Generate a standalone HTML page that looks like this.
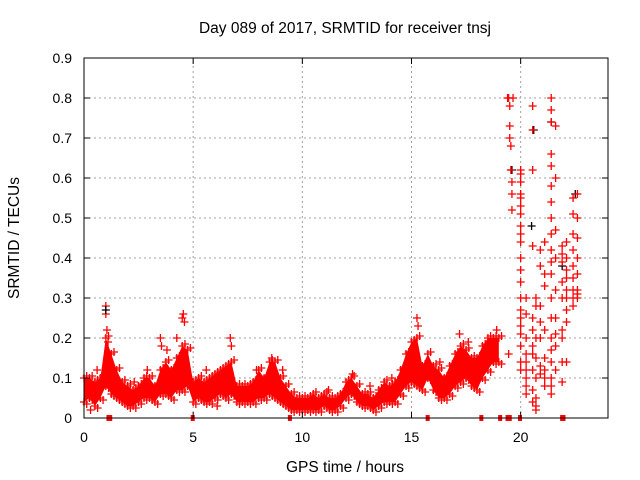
<!DOCTYPE html>
<html><head><meta charset="utf-8"><style>
html,body{margin:0;padding:0;background:#fff;}
svg{display:block;font-family:"Liberation Sans",sans-serif;}
</style></head><body>
<svg id="chart" width="640" height="480" viewBox="0 0 640 480">
<rect width="640" height="480" fill="#fff"/>
<text x="345" y="33" font-size="15.5" text-anchor="middle">Day 089 of 2017, SRMTID for receiver tnsj</text>
<text x="345" y="472" font-size="15.5" text-anchor="middle">GPS time / hours</text>
<text x="19" y="238" font-size="15.5" text-anchor="middle" transform="rotate(-90 19 238)">SRMTID / TECUs</text>
<g id="grid"></g>
<g id="marks"></g>
<g id="axes"></g>
</svg>
<script>
const xTicks=[0,5,10,15,20];
const yTicks=[0,0.1,0.2,0.3,0.4,0.5,0.6,0.7,0.8,0.9];
const yTickLabels=["0","0.1","0.2","0.3","0.4","0.5","0.6","0.7","0.8","0.9"];
const bandTimes=[0,0.25,0.5,0.75,1,1.25,1.5,1.75,2,2.25,2.5,2.75,3,3.25,3.5,3.75,4,4.25,4.5,4.75,5,5.25,5.5,5.75,6,6.25,6.5,6.75,7,7.25,7.5,7.75,8,8.25,8.5,8.75,9,9.25,9.5,9.75,10,10.25,10.5,10.75,11,11.25,11.5,11.75,12,12.25,12.5,12.75,13,13.25,13.5,13.75,14,14.25,14.5,14.75,15,15.25,15.5,15.75,16,16.25,16.5,16.75,17,17.25,17.5,17.75,18,18.25,18.5,18.75,19];
const bandLow=[0.04,0.05,0.03,0.05,0.08,0.06,0.05,0.04,0.03,0.03,0.04,0.05,0.05,0.04,0.06,0.06,0.05,0.07,0.07,0.08,0.04,0.05,0.04,0.04,0.05,0.06,0.05,0.06,0.04,0.04,0.04,0.04,0.05,0.05,0.06,0.05,0.04,0.03,0.02,0.02,0.02,0.02,0.02,0.02,0.03,0.02,0.02,0.03,0.05,0.06,0.04,0.03,0.03,0.02,0.03,0.04,0.04,0.04,0.06,0.08,0.09,0.08,0.07,0.10,0.07,0.05,0.05,0.06,0.08,0.09,0.10,0.08,0.07,0.10,0.12,0.14,0.14];
const bandHigh=[0.10,0.10,0.09,0.10,0.20,0.16,0.12,0.09,0.08,0.07,0.08,0.10,0.10,0.08,0.12,0.14,0.12,0.15,0.18,0.17,0.09,0.10,0.09,0.10,0.11,0.12,0.13,0.14,0.08,0.08,0.08,0.09,0.12,0.10,0.14,0.14,0.10,0.08,0.06,0.05,0.05,0.05,0.06,0.05,0.06,0.05,0.05,0.06,0.09,0.10,0.08,0.06,0.06,0.05,0.07,0.09,0.08,0.09,0.12,0.16,0.19,0.20,0.13,0.16,0.13,0.12,0.10,0.13,0.16,0.18,0.17,0.15,0.15,0.18,0.20,0.20,0.20];
const spikeTimes=[1,1,1.05,1.1,3.5,3.55,4.25,4.5,4.55,4.6,6.7,6.75,15.25,15.3,17.2,18.9,0.6,2.3,3.8,5.6,7.9,8.6,11.2,13.1,14.1,16.3,17.6,0.3,2.9,6.1,9.1,12.3];
const spikeValues=[0.28,0.26,0.22,0.19,0.2,0.18,0.2,0.25,0.26,0.24,0.2,0.18,0.25,0.23,0.21,0.22,0.12,0.09,0.17,0.12,0.12,0.15,0.07,0.08,0.1,0.14,0.19,0.02,0.12,0.03,0.12,0.11];
const scatterTimes=[19.4,19.45,19.5,19.5,19.5,19.55,19.55,19.6,19.6,19.6,19.65,19.45,
20,20,20,20,20,20,20,20,20,20,20,20,20,20,20,20,20,20,20,20,20,
20.25,20.25,20.25,20.25,20.25,20.25,20.25,20.25,20.25,
20.55,20.55,20.55,20.55,20.55,20.55,20.55,20.55,20.55,20.55,20.55,
20.7,20.7,20.7,20.7,20.7,20.7,20.7,20.7,
20.9,20.9,20.9,20.9,20.9,20.9,20.9,
21.1,21.1,21.1,21.1,21.1,21.1,21.1,21.1,
21.4,21.4,21.4,21.4,21.4,21.4,21.4,21.4,21.4,21.4,21.4,21.4,21.4,21.4,21.4,21.4,21.4,21.4,21.4,21.4,
21.6,21.6,21.6,21.6,21.6,21.6,21.6,21.6,21.6,
21.9,21.9,21.9,21.9,21.9,21.9,21.9,21.9,21.9,
22.1,22.1,22.1,22.1,22.1,22.1,22.1,22.1,22.1,
22.4,22.4,22.4,22.4,22.4,22.4,22.4,22.4,22.4,
22.6,22.6,22.6,22.6,22.6,22.6,22.6,22.6];
const scatterValues=[0.80,0.80,0.78,0.73,0.70,0.68,0.62,0.59,0.56,0.52,0.80,0.16,
0.62,0.61,0.59,0.56,0.55,0.53,0.51,0.48,0.46,0.44,0.40,0.37,0.34,0.30,0.27,0.25,0.23,0.21,0.18,0.14,0.12,
0.20,0.16,0.12,0.10,0.08,0.06,0.14,0.26,0.30,
0.78,0.72,0.62,0.43,0.25,0.22,0.18,0.16,0.12,0.07,0.04,
0.30,0.28,0.20,0.15,0.10,0.05,0.03,0.02,
0.42,0.38,0.28,0.24,0.20,0.13,0.11,
0.44,0.36,0.33,0.22,0.15,0.12,0.10,0.08,
0.80,0.77,0.74,0.66,0.63,0.58,0.54,0.50,0.46,0.42,0.39,0.36,0.30,0.25,0.20,0.17,0.14,0.10,0.08,0.06,
0.73,0.60,0.47,0.40,0.32,0.25,0.21,0.18,0.12,
0.43,0.41,0.39,0.34,0.30,0.22,0.20,0.14,0.09,
0.44,0.40,0.37,0.35,0.32,0.30,0.27,0.24,0.14,
0.55,0.51,0.46,0.42,0.38,0.35,0.32,0.30,0.28,
0.56,0.50,0.45,0.40,0.36,0.32,0.30,0.31];
const blackTimes=[1,19.6,20.6,21.4,20.5,22.5,21.9];
const blackValues=[0.27,0.62,0.72,0.74,0.48,0.56,0.38];
const flagTimes=[1.12,1.2,4.98,9.43,15.74,18.2,19.06,19.4,19.5,19.97,21.9,21.96];

const X0=84,X1=608,Y0=418,Y1=58,XMAX=24,YMAX=0.9;
const xs=h=>X0+(X1-X0)*h/XMAX;
const ys=v=>Y0-(Y0-Y1)*v/YMAX;
const NS="http://www.w3.org/2000/svg";
const grid=document.getElementById('grid'),marks=document.getElementById('marks'),axes=document.getElementById('axes');
function mk(tag,attrs,parent){const e=document.createElementNS(NS,tag);for(const k in attrs)e.setAttribute(k,attrs[k]);parent.appendChild(e);return e;}

yTicks.forEach((v,i)=>{
  if(v>0&&v<YMAX){const l=mk('line',{x1:X0,x2:X1,y1:ys(v),y2:ys(v),stroke:'#a0a0a0','stroke-dasharray':'2,3'},grid);
  
  }
  const t=mk('text',{x:X0-12,y:ys(v)+5,'font-size':14,'text-anchor':'end'},axes);t.textContent=yTickLabels[i];
  
  
  mk('line',{x1:X0,x2:X0+6,y1:ys(v),y2:ys(v),stroke:'#000'},axes);
  mk('line',{x1:X1,x2:X1-6,y1:ys(v),y2:ys(v),stroke:'#000'},axes);
});
xTicks.forEach(h=>{
  if(h>0){const l=mk('line',{x1:xs(h),x2:xs(h),y1:Y0,y2:Y1,stroke:'#a0a0a0','stroke-dasharray':'2,3'},grid);
  
  }
  const t=mk('text',{x:xs(h),y:Y0+24,'font-size':14,'text-anchor':'middle'},axes);t.textContent=String(h);
  
  
  mk('line',{x1:xs(h),x2:xs(h),y1:Y0,y2:Y0-6,stroke:'#000'},axes);
  mk('line',{x1:xs(h),x2:xs(h),y1:Y1,y2:Y1+6,stroke:'#000'},axes);
});
const frame=mk('rect',{x:X0,y:Y1,width:X1-X0,height:Y0-Y1,fill:'none',stroke:'#000','stroke-width':1},axes);



function plus(px,py,color,name){
  const p=mk('path',{d:`M${px-4},${py}h8M${px},${py-4}v8`,stroke:color,'stroke-width':1.3,fill:'none'},marks);
  
  
}
let up=bandTimes.map((h,i)=>`${xs(h)},${ys(bandHigh[i])}`),lo=bandTimes.map((h,i)=>`${xs(h)},${ys(bandLow[i])}`).reverse();
const band=mk('polygon',{points:up.concat(lo).join(' '),fill:'#ff0000'},marks);


bandTimes.forEach((h,i)=>{
  const a=ys(bandLow[i]),b=ys(bandHigh[i]);
  [0,2.7].forEach(dx=>{
    plus(xs(h)+dx,a+(dx?2:0),'#ff0000','srmtid-point');
    plus(xs(h)+dx,b-(dx?2:0),'#ff0000','srmtid-point');
  });
});
spikeTimes.forEach((h,i)=>plus(xs(h),ys(spikeValues[i]),'#ff0000','srmtid-spike'));
blackTimes.forEach((h,i)=>plus(xs(h),ys(blackValues[i]),'#000','srmtid-black-point'));
scatterTimes.forEach((h,i)=>plus(xs(h),ys(scatterValues[i]),'#ff0000','srmtid-point'));
flagTimes.forEach(h=>{
  const r=mk('rect',{x:xs(h)-2,y:Y0-3,width:4,height:6,fill:'#ff0000'},marks);
  
  
});
</script>
</body></html>
